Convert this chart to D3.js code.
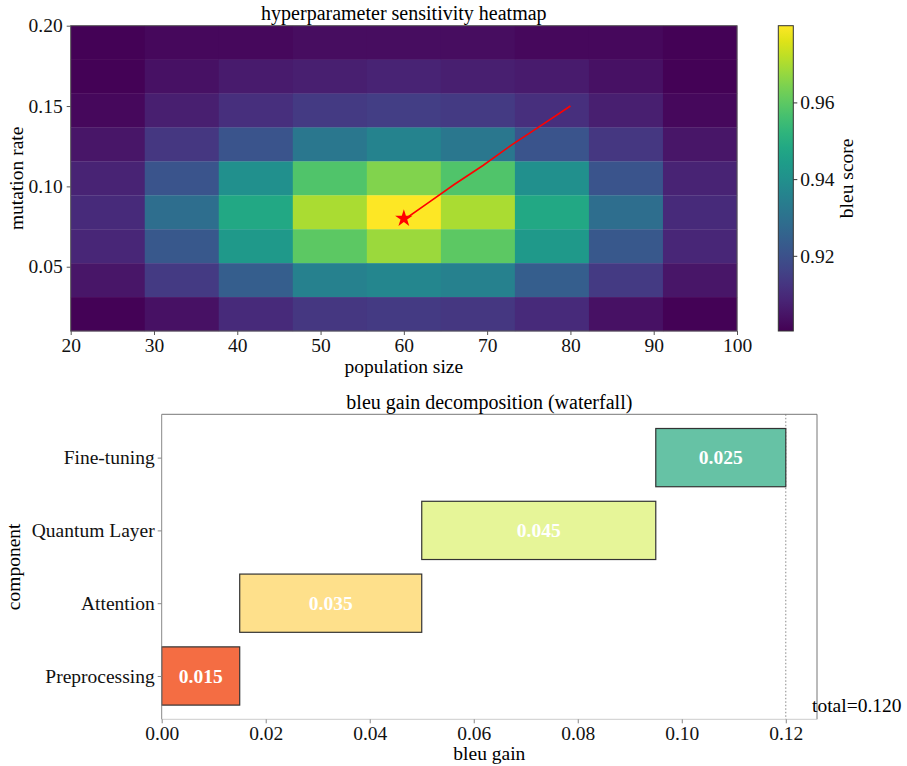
<!DOCTYPE html>
<html>
<head>
<meta charset="utf-8">
<script src="https://cdn.jsdelivr.net/npm/d3@7"></script>
<style>
  body { margin: 0; background: #fff; }
  text { font-family: "Liberation Serif", "Times New Roman", serif; }
</style>
</head>
<body>
<script>
// heatmap data (rows listed from top = high mutation rate, to bottom)
var popRange = [20, 100];
var mutRange = [0.01, 0.20];
var bleuGrid = [
  [0.901, 0.902, 0.902, 0.903, 0.903, 0.903, 0.902, 0.902, 0.901],
  [0.901, 0.904, 0.906, 0.907, 0.908, 0.907, 0.906, 0.904, 0.901],
  [0.902, 0.907, 0.911, 0.914, 0.915, 0.914, 0.911, 0.907, 0.902],
  [0.905, 0.913, 0.921, 0.932, 0.936, 0.932, 0.921, 0.913, 0.905],
  [0.908, 0.921, 0.940, 0.958, 0.965, 0.958, 0.940, 0.921, 0.908],
  [0.910, 0.929, 0.948, 0.970, 0.980, 0.970, 0.948, 0.929, 0.910],
  [0.909, 0.922, 0.943, 0.960, 0.968, 0.960, 0.943, 0.922, 0.909],
  [0.905, 0.914, 0.924, 0.935, 0.937, 0.935, 0.924, 0.914, 0.905],
  [0.901, 0.904, 0.910, 0.913, 0.914, 0.913, 0.910, 0.904, 0.901]
];
var bleuRange = [0.9004, 0.980];
var popTicks = [20, 30, 40, 50, 60, 70, 80, 90, 100];
var mutTicks = [0.05, 0.10, 0.15, 0.20];
var cbarTicks = [0.92, 0.94, 0.96];
// search trajectory, ends at the best point
var pathPop = [80, 76.5, 73, 69.5, 66, 63, 60.5, 60];
var pathMut = [0.150, 0.138, 0.126, 0.113, 0.101, 0.090, 0.081, 0.080];
var bestPoint = [60, 0.08];

// waterfall data
var components = ["Preprocessing", "Attention", "Quantum Layer", "Fine-tuning"];
var gains = [0.015, 0.035, 0.045, 0.025];
var barColors = ["#f46d43", "#fee08b", "#e6f598", "#66c2a5"];
var gainTicks = [0.00, 0.02, 0.04, 0.06, 0.08, 0.10, 0.12];

var fs = "19.5px";

var svg = d3.select("body").append("svg")
    .attr("width", 907)
    .attr("height", 766);

// ---------- heatmap ----------
var hm = { left: 70.7, right: 737, top: 25.7, bottom: 331 };
var x = d3.scaleLinear().domain(popRange).range([hm.left, hm.right]);
var y = d3.scaleLinear().domain(mutRange).range([hm.bottom, hm.top]);
var color = d3.scaleSequential(d3.interpolateViridis).domain(bleuRange);

var nRows = bleuGrid.length, nCols = bleuGrid[0].length;
var dPop = (popRange[1] - popRange[0]) / nCols;
var dMut = (mutRange[1] - mutRange[0]) / nRows;

var cells = [];
bleuGrid.forEach(function(row, i) {
  row.forEach(function(v, j) {
    cells.push({ p0: popRange[0] + j * dPop, m1: mutRange[1] - i * dMut, v: v });
  });
});

svg.append("g").selectAll("rect")
  .data(cells).enter().append("rect")
    .attr("x", function(d) { return x(d.p0); })
    .attr("y", function(d) { return y(d.m1); })
    .attr("width", function(d) { return x(d.p0 + dPop) - x(d.p0) + 0.3; })
    .attr("height", function(d) { return y(d.m1 - dMut) - y(d.m1) + 0.3; })
    .attr("fill", function(d) { return color(d.v); });

var line = d3.line()
  .x(function(d) { return x(d[0]); })
  .y(function(d) { return y(d[1]); });
svg.append("path")
  .datum(pathPop.map(function(p, i) { return [p, pathMut[i]]; }))
  .attr("d", line)
  .attr("fill", "none")
  .attr("stroke", "#ff0000")
  .attr("stroke-width", 1.6);

svg.append("path")
  .attr("d", d3.symbol().type(d3.symbolStar).size(95)())
  .attr("transform", "translate(" + x(bestPoint[0]) + "," + y(bestPoint[1]) + ")")
  .attr("fill", "#ff0000");

svg.append("rect")
  .attr("x", hm.left).attr("y", hm.top)
  .attr("width", hm.right - hm.left).attr("height", hm.bottom - hm.top)
  .attr("fill", "none").attr("stroke", "#555").attr("stroke-width", 1);

var xAxis = svg.append("g")
  .attr("transform", "translate(0," + hm.bottom + ")")
  .call(d3.axisBottom(x).tickValues(popTicks).tickFormat(d3.format("d")).tickSize(4).tickPadding(3));
var yAxis = svg.append("g")
  .attr("transform", "translate(" + hm.left + ",0)")
  .call(d3.axisLeft(y).tickValues(mutTicks).tickFormat(d3.format(".2f")).tickSize(4).tickPadding(4));
[xAxis, yAxis].forEach(function(a) {
  a.select(".domain").remove();
  a.selectAll("line").attr("stroke", "#555");
  a.selectAll("text").style("font-size", fs).attr("fill", "#111");
});

svg.append("text")
  .attr("x", (hm.left + hm.right) / 2).attr("y", 20)
  .attr("text-anchor", "middle").style("font-size", "20px")
  .text("hyperparameter sensitivity heatmap");
svg.append("text")
  .attr("x", (hm.left + hm.right) / 2).attr("y", 373)
  .attr("text-anchor", "middle").style("font-size", fs)
  .text("population size");
svg.append("text")
  .attr("transform", "translate(23," + (hm.top + hm.bottom) / 2 + ") rotate(-90)")
  .attr("text-anchor", "middle").style("font-size", fs)
  .text("mutation rate");

// colorbar
var cb = { left: 778.3, width: 15 };
var cy = d3.scaleLinear().domain(bleuRange).range([hm.bottom, hm.top]);
var grad = svg.append("defs").append("linearGradient")
  .attr("id", "viridis").attr("x1", 0).attr("y1", 1).attr("x2", 0).attr("y2", 0);
d3.range(0, 1.0001, 0.05).forEach(function(t) {
  grad.append("stop").attr("offset", t).attr("stop-color", d3.interpolateViridis(t));
});
svg.append("rect")
  .attr("x", cb.left).attr("y", hm.top)
  .attr("width", cb.width).attr("height", hm.bottom - hm.top)
  .attr("fill", "url(#viridis)").attr("stroke", "#333").attr("stroke-width", 1);
var cAxis = svg.append("g")
  .attr("transform", "translate(" + (cb.left + cb.width) + ",0)")
  .call(d3.axisRight(cy).tickValues(cbarTicks).tickFormat(d3.format(".2f")).tickSize(4).tickPadding(3));
cAxis.select(".domain").remove();
cAxis.selectAll("line").attr("stroke", "#333");
cAxis.selectAll("text").style("font-size", fs).attr("fill", "#111");
svg.append("text")
  .attr("transform", "translate(853," + (hm.top + hm.bottom) / 2 + ") rotate(-90)")
  .attr("text-anchor", "middle").style("font-size", fs)
  .text("bleu score");

// ---------- waterfall ----------
var wf = { left: 161.7, right: 817, top: 414.3, bottom: 719.3 };
var total = d3.sum(gains);
var gx = d3.scaleLinear().domain([0, total * 1.05]).range([wf.left, wf.right]);
var gy = d3.scaleLinear().domain([-0.595, components.length - 1 + 0.595]).range([wf.bottom, wf.top]);
var ends = Array.from(d3.cumsum(gains));
var bars = components.map(function(c, i) {
  return { name: c, gain: gains[i], start: ends[i] - gains[i], end: ends[i], color: barColors[i], idx: i };
});

svg.append("line")
  .attr("x1", gx(total)).attr("x2", gx(total))
  .attr("y1", wf.top).attr("y2", wf.bottom)
  .attr("stroke", "#888").attr("stroke-width", 1).attr("stroke-dasharray", "1.5,2");

var bh = gy(0) - gy(0.8);
svg.append("g").selectAll("rect")
  .data(bars).enter().append("rect")
    .attr("x", function(d) { return gx(d.start); })
    .attr("y", function(d) { return gy(d.idx) - bh / 2; })
    .attr("width", function(d) { return gx(d.end) - gx(d.start); })
    .attr("height", bh)
    .attr("fill", function(d) { return d.color; })
    .attr("stroke", "#333").attr("stroke-width", 1.2);

svg.append("g").selectAll("text")
  .data(bars).enter().append("text")
    .attr("x", function(d) { return gx((d.start + d.end) / 2); })
    .attr("y", function(d) { return gy(d.idx); })
    .attr("dy", "0.35em")
    .attr("text-anchor", "middle")
    .style("font-size", fs).style("font-weight", "bold")
    .attr("fill", "#fff")
    .text(function(d) { return d3.format(".3f")(d.gain); });

// frame
svg.append("line").attr("x1", wf.left).attr("x2", wf.right).attr("y1", wf.top).attr("y2", wf.top)
  .attr("stroke", "#777");
svg.append("line").attr("x1", wf.right).attr("x2", wf.right).attr("y1", wf.top).attr("y2", wf.bottom)
  .attr("stroke", "#777");
svg.append("line").attr("x1", wf.left).attr("x2", wf.left).attr("y1", wf.top).attr("y2", wf.bottom)
  .attr("stroke", "#888");
svg.append("line").attr("x1", wf.left).attr("x2", wf.right).attr("y1", wf.bottom).attr("y2", wf.bottom)
  .attr("stroke", "#ccc");

var gxAxis = svg.append("g")
  .attr("transform", "translate(0," + wf.bottom + ")")
  .call(d3.axisBottom(gx).tickValues(gainTicks).tickFormat(d3.format(".2f")).tickSize(4).tickPadding(3));
var gyAxis = svg.append("g")
  .attr("transform", "translate(" + wf.left + ",0)")
  .call(d3.axisLeft(gy).tickValues(d3.range(components.length))
    .tickFormat(function(i) { return components[i]; }).tickSize(4).tickPadding(3));
[gxAxis, gyAxis].forEach(function(a) {
  a.select(".domain").remove();
  a.selectAll("line").attr("stroke", "#888");
  a.selectAll("text").style("font-size", fs).attr("fill", "#111");
});

svg.append("text")
  .attr("x", gx(total * 1.042)).attr("y", 712)
  .style("font-size", fs)
  .text("total=" + d3.format(".3f")(total));

svg.append("text")
  .attr("x", (wf.left + wf.right) / 2).attr("y", 409)
  .attr("text-anchor", "middle").style("font-size", "20px")
  .text("bleu gain decomposition (waterfall)");
svg.append("text")
  .attr("x", (wf.left + wf.right) / 2).attr("y", 760)
  .attr("text-anchor", "middle").style("font-size", fs)
  .text("bleu gain");
svg.append("text")
  .attr("transform", "translate(20," + (wf.top + wf.bottom) / 2 + ") rotate(-90)")
  .attr("text-anchor", "middle").style("font-size", fs)
  .text("component");
</script>
</body>
</html>
